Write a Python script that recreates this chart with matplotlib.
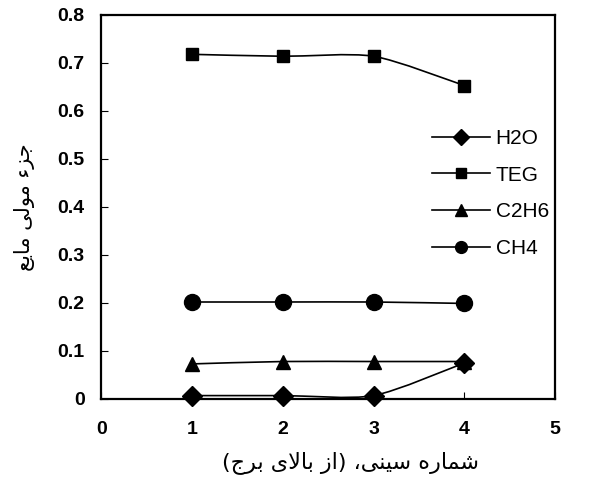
import numpy as np
import matplotlib
matplotlib.use('Agg')
import matplotlib.pyplot as plt
from matplotlib.path import Path
from matplotlib.patches import PathPatch
from matplotlib.lines import Line2D

# tray number (from top of column)
trays = [1, 2, 3, 4]
h2o = [0.007, 0.007, 0.007, 0.075]
teg = [0.718, 0.714, 0.714, 0.653]
c2h6 = [0.073, 0.078, 0.078, 0.078]
ch4 = [0.202, 0.202, 0.202, 0.199]

series_names = ['H2O', 'TEG', 'C2H6', 'CH4']
series_values = [h2o, teg, c2h6, ch4]
series_markers = ['D', 's', '^', 'o']
marker_sizes = [10.5, 8.7, 10, 11.5]
legend_marker_sizes = [8.5, 7.5, 9, 8.5]

xticks = [0, 1, 2, 3, 4, 5]
yticks = [0, 0.1, 0.2, 0.3, 0.4, 0.5, 0.6, 0.7, 0.8]
ytick_labels = ['0', '0.1', '0.2', '0.3', '0.4', '0.5', '0.6', '0.7', '0.8']

# Persian labels, pre-shaped (presentation forms, visual order) since
# matplotlib does no Arabic shaping / bidi
xlabel = ('(\ufe9d\ufeae\ufe91 \ufeef\ufefb\ufe8e\ufe91 \ufeaf\ufe8d) '
          '\u060c\ufef0\ufee8\ufef4\ufeb3 \ufee9\ufead\ufe8e\ufee4\ufeb7')
ylabel = '\ufeca\ufef3\ufe8e\ufee3 \ufef0\ufedf\ufeee\ufee3 \ufe80\ufeb0\ufe9f'


def smooth_path(xs, ys, k=8.0):
    # smoothed line like Excel: cubic bezier between the data points
    pts = np.column_stack([xs, ys]).astype(float)
    verts = [pts[0]]
    codes = [Path.MOVETO]
    n = len(pts)
    for i in range(n - 1):
        p0 = pts[i - 1] if i > 0 else pts[i]
        p1 = pts[i]
        p2 = pts[i + 1]
        p3 = pts[i + 2] if i + 2 < n else pts[i + 1]
        c1 = p1 + (p2 - p0) / k
        c2 = p2 - (p3 - p1) / k
        verts += [c1, c2, p2]
        codes += [Path.CURVE4] * 3
    return Path(verts, codes)


fig = plt.figure(figsize=(6.1, 4.83), dpi=100)
ax = fig.add_axes([0.166, 0.174, 0.744, 0.795])

handles = []
for name, vals, m, ms, lms in zip(series_names, series_values, series_markers,
                                  marker_sizes, legend_marker_sizes):
    ax.add_patch(PathPatch(smooth_path(trays, vals), facecolor='none',
                           edgecolor='black', lw=1.2, zorder=2))
    ax.plot(trays, vals, linestyle='none', marker=m, markersize=ms,
            color='black', zorder=3, clip_on=False)
    handles.append(Line2D([], [], color='black', lw=1.2, marker=m,
                          markersize=lms, label=name))

ax.set_xlim(0, 5)
ax.set_ylim(0, 0.8)
ax.set_xticks(xticks)
ax.set_yticks(yticks)
ax.set_yticklabels(ytick_labels)

for sp in ax.spines.values():
    sp.set_linewidth(1.6)

ax.tick_params(direction='in', length=5, width=0.8)
ax.tick_params(axis='y', pad=12)
ax.tick_params(axis='x', pad=16)
for lab in ax.get_xticklabels() + ax.get_yticklabels():
    lab.set_fontfamily('Liberation Sans')
    lab.set_fontweight('bold')
    lab.set_fontsize(14)

ax.set_xlabel(xlabel, fontfamily='DejaVu Sans', fontsize=16, labelpad=6)
ax.xaxis.set_label_coords(0.55, -0.135)
ax.set_ylabel(ylabel, fontfamily='DejaVu Sans', fontsize=15, labelpad=16)

leg = ax.legend(handles=handles, loc='upper left', bbox_to_anchor=(0.729, 0.703),
                frameon=False, borderpad=0, borderaxespad=0, handlelength=2.8,
                handletextpad=0.25, labelspacing=0.85,
                prop={'family': 'Liberation Sans', 'size': 15})

fig.savefig('out.png', dpi=100)
